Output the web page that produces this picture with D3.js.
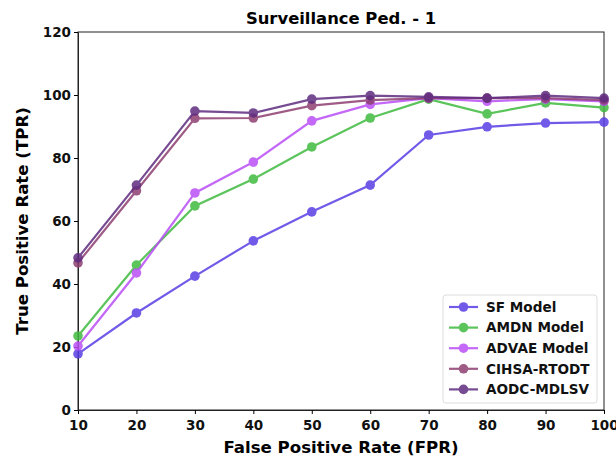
<!DOCTYPE html>
<html><head><meta charset="utf-8">
<script src="https://cdn.jsdelivr.net/npm/d3@7"></script>
<style>body{margin:0;background:#fff}svg{display:block}text{font-family:"DejaVu Sans",sans-serif;font-weight:bold}</style>
</head><body><svg id="c" width="616" height="457"></svg>
<script>
const fpr = [10,20,30,40,50,60,70,80,90,100];
const seriesNames = ["SF Model","AMDN Model","ADVAE Model","CIHSA-RTODT","AODC-MDLSV"];
const sfModel   = [17.8,30.8,42.5,53.7,62.9,71.4,87.3,89.9,91.1,91.4];
const amdnModel = [23.5,46.0,64.8,73.3,83.5,92.7,98.7,94.0,97.5,96.0];
const advaeModel= [20.3,43.5,68.9,78.7,91.8,97.0,99.0,98.0,98.7,98.0];
const cihsa     = [46.7,69.6,92.6,92.7,96.6,98.4,99.0,99.0,99.0,98.4];
const aodc      = [48.3,71.4,94.9,94.3,98.7,99.8,99.4,99.0,99.8,99.0];
const yTicks = [0,20,40,60,80,100,120];
const colors = ["#5a3ee6","#3fba3f","#b94ef6","#8e3f70","#5f2c80"];
const data = [sfModel,amdnModel,advaeModel,cihsa,aodc];

const svg = d3.select("#c");
const L=78,R=604,T=32,B=410;
const x = d3.scaleLinear().domain([10,100]).range([L,R]);
const y = d3.scaleLinear().domain([0,120]).range([B,T]);

svg.append("text").attr("x",(L+R)/2).attr("y",24).attr("text-anchor","middle").attr("font-size",16.4).text("Surveillance Ped. - 1");

svg.append("rect").attr("x",L).attr("y",T).attr("width",R-L).attr("height",B-T).attr("fill","none").attr("stroke","#222").attr("stroke-width",1);

const xa = svg.append("g").attr("transform",`translate(0,${B})`).call(d3.axisBottom(x).tickValues(fpr).tickSize(4).tickSizeOuter(0));
xa.select(".domain").attr("stroke","#222");
xa.selectAll("text").attr("font-size",13.5).attr("fill","#111").attr("dy","0.95em");
const ya = svg.append("g").attr("transform",`translate(${L},0)`).call(d3.axisLeft(y).tickValues(yTicks).tickSize(4).tickSizeOuter(0));
ya.select(".domain").attr("stroke","#222");
ya.selectAll("text").attr("font-size",13.5).attr("fill","#111");

svg.append("text").attr("x",(L+R)/2).attr("y",453).attr("text-anchor","middle").attr("font-size",16.6).text("False Positive Rate (FPR)");
svg.append("text").attr("transform",`translate(28,${(T+B)/2}) rotate(-90)`).attr("text-anchor","middle").attr("font-size",16.6).text("True Positive Rate (TPR)");

const line = d3.line().x((d,i)=>x(fpr[i])).y(d=>y(d));
data.forEach((s,k)=>{
  const g = svg.append("g").attr("opacity",0.85);
  g.append("path").attr("d",line(s)).attr("fill","none").attr("stroke",colors[k]).attr("stroke-width",2.2);
  g.selectAll("circle").data(s).enter().append("circle").attr("cx",(d,i)=>x(fpr[i])).attr("cy",d=>y(d)).attr("r",4.8).attr("fill",colors[k]);
});

const lg = svg.append("g");
lg.append("rect").attr("x",443).attr("y",295).attr("width",154).attr("height",108).attr("rx",3).attr("fill","#fff").attr("fill-opacity",0.85).attr("stroke","#ddd");
seriesNames.forEach((n,k)=>{
  const yy = 307 + k*20.6;
  const g = lg.append("g").attr("opacity",0.85);
  g.append("line").attr("x1",449).attr("x2",478).attr("y1",yy).attr("y2",yy).attr("stroke",colors[k]).attr("stroke-width",2.2);
  g.append("circle").attr("cx",463.5).attr("cy",yy).attr("r",4.8).attr("fill",colors[k]);
  lg.append("text").attr("x",486).attr("y",yy).attr("dy","0.36em").attr("font-size",13.6).attr("fill","#111").text(n);
});
</script></body></html>
